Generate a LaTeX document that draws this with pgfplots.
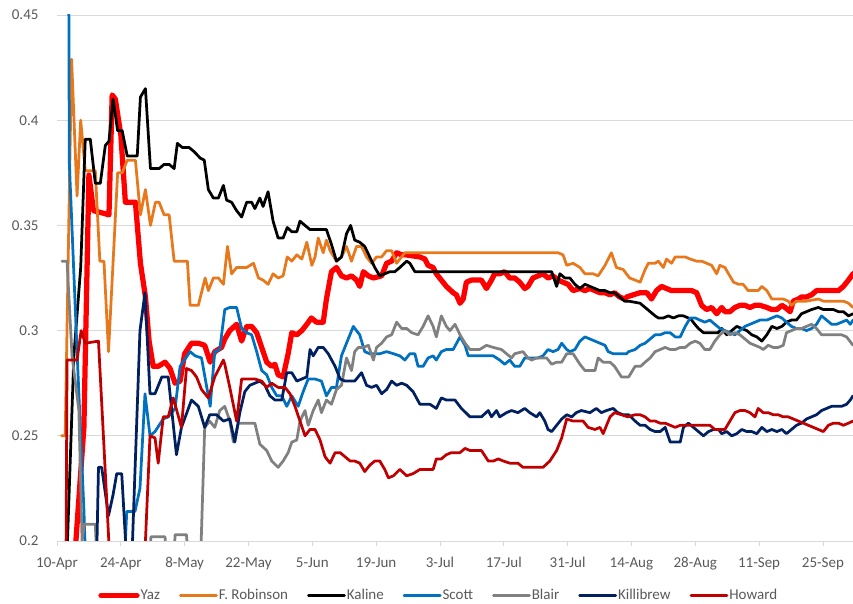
\documentclass[border=0pt]{standalone}
\usepackage{fontspec}
\setmainfont{Carlito}
\usepackage{pgfplots}
\pgfplotsset{compat=1.18}
\definecolor{cYaz}{HTML}{FF0000}
\definecolor{cRob}{HTML}{E8781C}
\definecolor{cKal}{HTML}{000000}
\definecolor{cSco}{HTML}{0070C0}
\definecolor{cBla}{HTML}{808080}
\definecolor{cKil}{HTML}{002060}
\definecolor{cHow}{HTML}{C00000}
\definecolor{cGrid}{HTML}{D9D9D9}
\definecolor{cTxt}{HTML}{595959}
\begin{document}
\begin{tikzpicture}
\begin{axis}[
  name=ax, at={(0,0)}, anchor=south west,
  scale only axis, width=796bp, height=526bp,
  xmin=0, xmax=174.6, ymin=0.2, ymax=0.45,
  axis lines=left, axis line style={-},
  x axis line style={draw=cGrid, line width=0.75bp},
  y axis line style={draw=none},
  ymajorgrids, grid style={draw=cGrid, line width=0.75bp},
  ytick={0.2,0.25,0.3,0.35,0.4,0.45},
  yticklabels={0.2,0.25,0.3,0.35,0.4,0.45},
  ytick style={draw=none},
  xtick={0,14,28,42,56,70,84,98,112,126,140,154,168},
  xticklabels={10-Apr,24-Apr,8-May,22-May,5-Jun,19-Jun,3-Jul,17-Jul,31-Jul,14-Aug,28-Aug,11-Sep,25-Sep},
  tick align=outside, major tick length=5bp,
  xtick style={draw=cGrid, line width=0.75bp},
  ticklabel style={font=\fontsize{15bp}{18bp}\selectfont, text=cTxt},
  yticklabel style={xshift=-10bp},
  xticklabel style={yshift=-8bp},
  legend columns=-1,
  legend style={at={(0.479,0)}, anchor=center, yshift=-54.5bp, draw=none, fill=none,
    font=\fontsize{15bp}{18bp}\selectfont, text=cTxt,
    /tikz/every even column/.append style={column sep=18bp},
    nodes={inner sep=1bp}},
  legend image code/.code={\draw[#1] (0bp,0bp) -- (36bp,0bp);},
  every axis plot/.append style={line join=round, line cap=round},
]
% Yaz
\addplot[cYaz, line width=5.25bp] coordinates {
(1,0.0)(3.5,0.18)(5.9,0.254)(7.0,0.374)(8,0.357)(9.8,0.356)(11.4,0.355)(12.1,0.412)(12.8,0.41)(14,0.393)(15,0.361)(17.2,0.361)(18.3,0.332)(19.4,0.316)(20.2,0.295)(21.1,0.283)(22.2,0.283)(23.7,0.285)(24.8,0.282)(25.9,0.275)(27,0.276)(28,0.289)(29.5,0.294)(31,0.294)(32.4,0.293)(33.6,0.285)(34.6,0.29)(36.1,0.292)(36.8,0.296)(37.9,0.3)(39.4,0.303)(40.5,0.295)(41.6,0.302)(42.7,0.302)(43.8,0.299)(44.9,0.292)(46,0.285)(47.1,0.283)(47.8,0.284)(48.5,0.279)(49.6,0.278)(50.7,0.289)(51.5,0.299)(52.6,0.298)(53.7,0.3)(54.8,0.303)(55.8,0.306)(56.9,0.304)(58.4,0.304)(59.1,0.315)(60.2,0.328)(61.3,0.33)(62.4,0.326)(63.5,0.325)(64.6,0.326)(65.7,0.324)(66.4,0.321)(67.2,0.328)(68.3,0.326)(69.4,0.325)(71.2,0.326)(72.3,0.332)(73.4,0.333)(74.5,0.337)(75.6,0.336)(76.5,0.336)(79.6,0.335)(80.7,0.334)(81.4,0.331)(82.5,0.330)(83.2,0.327)(84.3,0.324)(85.4,0.321)(86.9,0.318)(87.6,0.317)(88.4,0.313)(89.1,0.315)(89.8,0.323)(90.9,0.324)(93.1,0.324)(94.2,0.32)(95.3,0.324)(96,0.327)(97.1,0.327)(98.2,0.328)(99.3,0.325)(100.4,0.325)(101.5,0.323)(102.6,0.32)(103.3,0.321)(104.4,0.325)(105.5,0.326)(106.6,0.327)(107.7,0.325)(108.8,0.326)(109.9,0.324)(111,0.323)(112.1,0.322)(113.2,0.319)(114.7,0.32)(115.8,0.319)(116.9,0.32)(118,0.319)(119.1,0.318)(120.2,0.318)(121.3,0.317)(122.3,0.318)(123.4,0.316)(124.5,0.315)(125,0.316)(126.4,0.317)(127.9,0.318)(129.4,0.318)(130.4,0.315)(131.5,0.319)(132.6,0.321)(133.7,0.320)(134.8,0.319)(136,0.319)(137,0.319)(138.1,0.319)(139.2,0.319)(140.3,0.318)(141.4,0.312)(142.5,0.31)(143.6,0.311)(144.7,0.308)(145.8,0.311)(146.5,0.309)(147.6,0.309)(148.7,0.311)(149.8,0.312)(150.9,0.312)(152,0.311)(153.1,0.312)(154.2,0.312)(155.7,0.311)(156.8,0.31)(157.9,0.31)(159,0.312)(159.7,0.311)(160.8,0.309)(161.5,0.314)(162.6,0.315)(163.3,0.316)(164.4,0.316)(165.5,0.317)(166.6,0.319)(167.7,0.319)(168.8,0.319)(170.3,0.319)(171.4,0.319)(172.5,0.321)(173.6,0.324)(174.6,0.327)
};
\addlegendentry{Yaz}
% F. Robinson
\addplot[cRob, line width=2.75bp] coordinates {
(1.0,0.25)(1.8,0.25)(3.2,0.429)(4.4,0.364)(5.2,0.40)(6.2,0.376)(8.4,0.376)(9.4,0.333)(10.3,0.333)(11.3,0.29)(13.3,0.375)(14.3,0.375)(15.4,0.381)(17.2,0.381)(18.3,0.355)(19.4,0.367)(20.5,0.35)(21.6,0.361)(22.4,0.361)(23.5,0.355)(24.6,0.355)(25.7,0.333)(28.6,0.333)(29.2,0.312)(31,0.312)(32.5,0.325)(33.2,0.319)(34.3,0.325)(35.4,0.325)(36.5,0.322)(37.4,0.34)(38.3,0.327)(39.4,0.33)(41.6,0.33)(43.1,0.332)(44.2,0.325)(45.2,0.324)(46.3,0.322)(47.4,0.327)(48.5,0.325)(49.6,0.326)(50.5,0.335)(51.5,0.333)(52.6,0.336)(53.7,0.334)(54.8,0.342)(55.9,0.331)(56.6,0.335)(57.3,0.344)(58.4,0.337)(59.1,0.343)(59.9,0.338)(61.3,0.333)(62.4,0.335)(63.5,0.34)(64.6,0.333)(65.7,0.34)(66.8,0.34)(67.9,0.335)(69,0.332)(70.1,0.335)(71.2,0.335)(72.3,0.338)(73.4,0.338)(74.5,0.332)(75.2,0.334)(76.3,0.337)(109.9,0.337)(111,0.336)(111.8,0.331)(113.2,0.332)(114.7,0.33)(115.8,0.327)(117.6,0.327)(118.7,0.326)(120.2,0.331)(121.6,0.337)(122.7,0.33)(124.2,0.329)(125.6,0.325)(126.8,0.324)(127.9,0.323)(129,0.329)(129.7,0.332)(131.2,0.332)(131.9,0.333)(133,0.33)(133.7,0.334)(134.8,0.332)(135.6,0.335)(137.8,0.335)(138.9,0.334)(140.3,0.333)(141.4,0.333)(142.5,0.332)(143.6,0.331)(144.7,0.327)(145.4,0.331)(146.5,0.330)(147.3,0.327)(148.4,0.323)(149.5,0.322)(150.5,0.322)(151.6,0.319)(152.7,0.319)(153.8,0.319)(154.6,0.321)(155.7,0.319)(156.8,0.315)(159.3,0.315)(160.4,0.314)(161.1,0.312)(162.2,0.314)(164.4,0.314)(167,0.315)(168.1,0.314)(172.5,0.314)(173.6,0.313)(174.6,0.311)
};
\addlegendentry{F. Robinson}
% Kaline
\addplot[cKal, line width=2.75bp] coordinates {
(1.5,0.15)(3.7,0.288)(5.2,0.33)(6.2,0.391)(7.3,0.391)(8.4,0.37)(9.5,0.37)(10.6,0.388)(11.4,0.39)(12.3,0.41)(13.3,0.395)(14.3,0.395)(15.4,0.383)(17.6,0.383)(18.3,0.411)(19.4,0.415)(20.5,0.377)(22.4,0.377)(23.5,0.379)(24.6,0.379)(25.7,0.377)(26.4,0.389)(27.5,0.387)(29,0.387)(30.1,0.385)(31.4,0.382)(32.3,0.381)(33.2,0.367)(34.3,0.363)(35.4,0.363)(36.5,0.369)(37.2,0.362)(38.3,0.361)(39.4,0.357)(40.5,0.354)(41.6,0.361)(42.7,0.361)(43.4,0.358)(44.5,0.363)(45.2,0.359)(46.3,0.366)(47.4,0.352)(48.5,0.344)(49.6,0.344)(50.5,0.349)(51.5,0.347)(52.6,0.347)(53.3,0.352)(54.4,0.35)(55.5,0.348)(56.6,0.348)(59.1,0.348)(60.2,0.341)(61.3,0.333)(62.4,0.335)(63.5,0.346)(64.4,0.35)(65.3,0.343)(66.4,0.342)(67.5,0.34)(68.6,0.335)(69.7,0.33)(70.8,0.326)(71.9,0.327)(73,0.328)(74.1,0.328)(75.2,0.33)(76.7,0.333)(77.4,0.332)(78.5,0.328)(108.5,0.328)(109.6,0.321)(110.3,0.327)(111.4,0.325)(112.5,0.325)(113.6,0.322)(114.7,0.32)(115.8,0.322)(116.9,0.321)(118,0.32)(119.1,0.319)(120.2,0.319)(121.3,0.318)(122.3,0.318)(123.4,0.316)(124.5,0.314)(125.4,0.314)(127.9,0.313)(129,0.311)(130.1,0.309)(131.2,0.307)(131.9,0.306)(133,0.306)(134.1,0.307)(135.2,0.306)(136.3,0.307)(137.4,0.307)(138.5,0.306)(139.2,0.305)(139.9,0.303)(140.7,0.301)(141.8,0.299)(142.9,0.299)(144,0.299)(145,0.299)(145.8,0.301)(146.9,0.298)(148,0.3)(149.1,0.302)(150.2,0.301)(151.3,0.3)(152.4,0.298)(153.5,0.297)(154.6,0.295)(155.7,0.298)(156.8,0.302)(157.9,0.301)(159,0.302)(160,0.304)(161.1,0.305)(162.2,0.305)(163.3,0.308)(164.4,0.309)(165.5,0.31)(167,0.311)(168.1,0.31)(169.2,0.31)(170.3,0.31)(171.4,0.309)(172.5,0.309)(173.6,0.307)(174.6,0.308)
};
\addlegendentry{Kaline}
% Scott
\addplot[cSco, line width=2.75bp] coordinates {
(2.4,0.6)(2.7,0.38)(4.4,0.29)(5.9,0.215)(6.6,0.17)(14.5,0.17)(15,0.2)(15.3,0.214)(17.1,0.214)(18.2,0.225)(19.3,0.27)(20.4,0.25)(21.5,0.252)(23.3,0.258)(24.4,0.259)(25.9,0.263)(27,0.283)(29.2,0.29)(30.3,0.288)(31.7,0.287)(33.6,0.264)(34.6,0.29)(35.7,0.291)(36.8,0.31)(37.9,0.311)(39.4,0.311)(40.5,0.301)(41.6,0.299)(42.7,0.298)(43.8,0.29)(44.9,0.281)(46,0.279)(47.1,0.273)(48.2,0.269)(49.3,0.269)(50.4,0.264)(51.5,0.269)(52.9,0.264)(54,0.271)(55.1,0.277)(56.6,0.277)(58,0.276)(59.1,0.269)(60.2,0.273)(61.3,0.273)(62.4,0.288)(63.5,0.294)(65,0.302)(66.4,0.298)(67.5,0.29)(68.6,0.289)(70.8,0.289)(72.3,0.290)(73.8,0.289)(75.2,0.288)(76.3,0.286)(77.4,0.289)(78.5,0.289)(79.2,0.283)(80.3,0.283)(81.4,0.287)(82.5,0.288)(83.2,0.286)(84.3,0.29)(85.4,0.291)(86.9,0.291)(88.4,0.297)(89.5,0.293)(90.2,0.288)(91.7,0.288)(93.1,0.288)(94.6,0.288)(95.7,0.288)(97.1,0.286)(98.2,0.284)(99.3,0.286)(100.4,0.283)(101.5,0.283)(102.6,0.287)(104.1,0.287)(105.5,0.287)(106.6,0.288)(107.7,0.291)(108.8,0.29)(109.9,0.291)(110.7,0.294)(111.8,0.291)(112.5,0.29)(113.6,0.291)(114.7,0.295)(115.8,0.297)(116.9,0.296)(118,0.295)(119.1,0.294)(120.2,0.293)(120.9,0.29)(122,0.289)(124.9,0.289)(125.4,0.29)(126.8,0.291)(127.9,0.293)(129,0.294)(130.1,0.296)(131.2,0.298)(132.3,0.298)(133.4,0.299)(134.5,0.299)(135.6,0.297)(136.7,0.297)(137.8,0.302)(138.9,0.306)(140,0.306)(141,0.305)(142.1,0.304)(143.2,0.305)(144.3,0.303)(145.4,0.301)(146.5,0.3)(147.6,0.299)(148.7,0.298)(149.8,0.3)(150.9,0.302)(152,0.303)(153.1,0.304)(154.2,0.305)(155.7,0.305)(156.8,0.306)(157.9,0.307)(159,0.306)(160,0.304)(161.1,0.302)(162.2,0.301)(163.3,0.301)(164.4,0.3)(165.5,0.301)(166.6,0.303)(167.7,0.307)(168.8,0.305)(169.9,0.303)(171,0.303)(172.1,0.304)(173.2,0.305)(174,0.303)(174.6,0.305)
};
\addlegendentry{Scott}
% Blair
\addplot[cBla, line width=2.75bp] coordinates {
(1.1,0.333)(2.2,0.333)(3.3,0.288)(4.8,0.262)(5.5,0.2)(6,0.208)(8.4,0.208)(9.2,0.17)(19.8,0.17)(20.6,0.202)(23.7,0.202)(24.5,0.17)(25.2,0.17)(25.9,0.203)(28.4,0.203)(29.5,0.17)(31.2,0.17)(32.4,0.254)(33.5,0.257)(34.6,0.254)(35.7,0.262)(36.8,0.264)(37.9,0.257)(38.7,0.247)(39.8,0.256)(43.4,0.256)(44.5,0.246)(46,0.243)(47.1,0.238)(48.5,0.235)(49.6,0.238)(50.7,0.242)(51.5,0.247)(52.6,0.248)(53.3,0.257)(54.4,0.262)(55.1,0.255)(56.2,0.262)(57.3,0.267)(58,0.261)(59.1,0.267)(60.2,0.265)(61.3,0.272)(62.4,0.274)(63.5,0.287)(64.6,0.281)(65.3,0.29)(66.1,0.292)(67.2,0.292)(68.3,0.293)(69.4,0.286)(70.1,0.292)(71.2,0.294)(72.3,0.297)(73.4,0.298)(74.5,0.304)(75.6,0.301)(76.7,0.301)(77.8,0.299)(79.2,0.298)(80.3,0.302)(81.4,0.307)(82.5,0.302)(83.2,0.297)(84.3,0.307)(85.4,0.302)(86.2,0.3)(87.3,0.303)(88.4,0.298)(89.5,0.294)(90.6,0.291)(92.7,0.291)(94.2,0.293)(95.7,0.292)(97.5,0.291)(98.6,0.289)(99.7,0.287)(100.4,0.289)(102.2,0.29)(103.3,0.287)(104.1,0.286)(105.2,0.287)(107.4,0.287)(108.5,0.284)(109.6,0.285)(110.7,0.285)(111.8,0.289)(113.2,0.289)(114.7,0.284)(115.8,0.281)(118,0.281)(118.7,0.287)(119.8,0.285)(121.3,0.285)(122.3,0.283)(123.8,0.278)(125.4,0.278)(126.8,0.283)(128,0.283)(129,0.285)(130.1,0.287)(131.2,0.29)(132.3,0.291)(133.4,0.292)(134.5,0.291)(135.6,0.291)(136.7,0.292)(137.8,0.292)(138.9,0.294)(140,0.295)(141,0.294)(142.1,0.291)(143.2,0.291)(144.3,0.295)(145.4,0.298)(146.5,0.3)(147.6,0.298)(148.7,0.299)(149.8,0.298)(150.9,0.296)(152,0.294)(153.1,0.293)(154.2,0.292)(154.9,0.291)(156,0.293)(157.1,0.292)(158.2,0.292)(159.3,0.293)(160,0.299)(161.1,0.3)(162.2,0.301)(163.3,0.301)(164.4,0.302)(165.5,0.303)(166.6,0.301)(167.7,0.298)(172.1,0.298)(173.2,0.297)(174.6,0.293)
};
\addlegendentry{Blair}
% Killebrew
\addplot[cKil, line width=2.75bp] coordinates {
(1,0.0)(8.5,0.17)(9.1,0.235)(9.8,0.235)(11.3,0.212)(12.3,0.222)(13.1,0.232)(14.2,0.232)(15.3,0.19)(16.4,0.19)(18.2,0.3)(19.3,0.318)(20.4,0.27)(21.5,0.27)(23,0.278)(24.4,0.278)(26.2,0.241)(27.3,0.254)(29.5,0.267)(31,0.264)(32.4,0.254)(33.5,0.26)(35,0.26)(36.5,0.257)(37.9,0.258)(39,0.247)(40.1,0.261)(41.2,0.271)(42.3,0.274)(43.4,0.275)(44.5,0.276)(45.6,0.274)(46.7,0.269)(47.8,0.267)(49.3,0.267)(50.4,0.28)(51.5,0.28)(52.6,0.276)(53.7,0.277)(54.8,0.278)(55.5,0.291)(56.2,0.288)(57.3,0.292)(58.4,0.292)(59.5,0.289)(61,0.283)(62.1,0.277)(63.2,0.276)(65.3,0.276)(66.8,0.28)(67.9,0.274)(69,0.273)(70.1,0.274)(71.2,0.27)(72.3,0.272)(73.4,0.276)(74.5,0.274)(75.6,0.275)(76.7,0.274)(78.1,0.271)(79.6,0.265)(81.8,0.265)(83.2,0.263)(84.3,0.268)(85.4,0.267)(87.3,0.267)(88.7,0.263)(90.6,0.259)(93.1,0.259)(94.6,0.262)(95.3,0.259)(96.4,0.262)(97.1,0.259)(98.6,0.261)(99.7,0.262)(101.1,0.261)(102.6,0.263)(103.7,0.261)(105.2,0.259)(105.9,0.261)(107,0.257)(107.7,0.253)(108.5,0.252)(109.6,0.255)(110.7,0.258)(111.8,0.26)(112.9,0.259)(113.9,0.261)(115,0.262)(116.9,0.261)(118.3,0.263)(119.4,0.261)(120.5,0.262)(122,0.263)(123,0.261)(124.2,0.26)(125.4,0.26)(126.8,0.257)(127.9,0.255)(129,0.255)(130.1,0.253)(131.2,0.252)(132.3,0.252)(133.4,0.254)(134.5,0.247)(135.6,0.247)(136.7,0.247)(137.4,0.254)(138.5,0.256)(139.6,0.254)(140.7,0.252)(141.8,0.25)(142.9,0.252)(144,0.253)(145.1,0.253)(145.8,0.251)(146.9,0.252)(148,0.25)(149.1,0.251)(150.2,0.253)(151.3,0.252)(152.4,0.252)(153.5,0.251)(154.6,0.254)(155.7,0.252)(156.8,0.253)(157.9,0.252)(159,0.253)(160,0.251)(161.1,0.253)(162.2,0.255)(163.3,0.256)(164.4,0.258)(165.5,0.259)(166.6,0.26)(167.7,0.262)(168.8,0.263)(169.9,0.264)(171,0.264)(172.1,0.264)(173.2,0.265)(174,0.267)(174.6,0.269)
};
\addlegendentry{Killibrew}
% Howard
\addplot[cHow, line width=2.75bp] coordinates {
(1,0.0)(2.0,0.2)(2.2,0.286)(4.4,0.286)(5.3,0.30)(6.2,0.294)(9.1,0.295)(10.3,0.245)(11.6,0.19)(12,0.1)(18.8,0.1)(19.4,0.2)(20.4,0.25)(21.5,0.249)(22.2,0.237)(23.3,0.259)(24.4,0.259)(25.5,0.268)(27.3,0.254)(28.4,0.282)(29.5,0.281)(30.6,0.278)(31.7,0.272)(33.2,0.268)(34.6,0.278)(36.5,0.286)(36.8,0.284)(37.9,0.273)(39.4,0.257)(40.5,0.277)(42.3,0.277)(43.4,0.277)(44.9,0.276)(46,0.273)(47.1,0.275)(48.5,0.273)(50,0.273)(51.1,0.27)(52.2,0.264)(53.3,0.257)(54.4,0.25)(55.5,0.253)(56.6,0.253)(57.7,0.248)(58.8,0.24)(59.9,0.237)(61,0.242)(62.1,0.242)(63.2,0.24)(64.3,0.238)(65.3,0.238)(66.4,0.237)(67.5,0.233)(68.6,0.236)(69.7,0.238)(70.8,0.238)(71.9,0.234)(72.7,0.23)(73.8,0.231)(75.2,0.234)(76.7,0.231)(78.1,0.232)(79.6,0.234)(81,0.234)(82.5,0.234)(83.2,0.239)(84.3,0.239)(85.4,0.241)(86.5,0.242)(88.4,0.242)(89.5,0.244)(90.6,0.243)(93.1,0.243)(94.6,0.238)(95.7,0.238)(96.8,0.239)(97.9,0.238)(99.3,0.237)(101.1,0.237)(102.2,0.235)(106.6,0.235)(108.1,0.238)(109.6,0.243)(110.7,0.249)(111.8,0.258)(113.2,0.257)(115.4,0.257)(116.5,0.254)(118,0.253)(119.1,0.254)(119.8,0.251)(121.3,0.259)(122.3,0.261)(123.8,0.26)(125.2,0.259)(126.8,0.26)(127.9,0.26)(129,0.259)(130.1,0.257)(131.2,0.257)(132.3,0.256)(133.4,0.256)(134.5,0.255)(135.6,0.254)(136.7,0.255)(137.8,0.255)(141.4,0.255)(143.2,0.255)(144.3,0.253)(146.5,0.253)(147.6,0.257)(148.7,0.261)(149.8,0.262)(150.9,0.262)(152,0.261)(153.1,0.259)(153.8,0.263)(154.9,0.261)(156,0.261)(157.1,0.26)(158.2,0.26)(159.3,0.259)(160.4,0.259)(161.5,0.258)(162.6,0.257)(163.7,0.256)(164.8,0.255)(165.9,0.254)(167,0.253)(168.1,0.252)(169.2,0.255)(170.3,0.256)(171.4,0.256)(172.5,0.255)(173.6,0.256)(174.6,0.257)
};
\addlegendentry{Howard}
\end{axis}
\pgfresetboundingbox
\path (-57bp,-63bp) rectangle (796bp,541bp);
\end{tikzpicture}
\end{document}
